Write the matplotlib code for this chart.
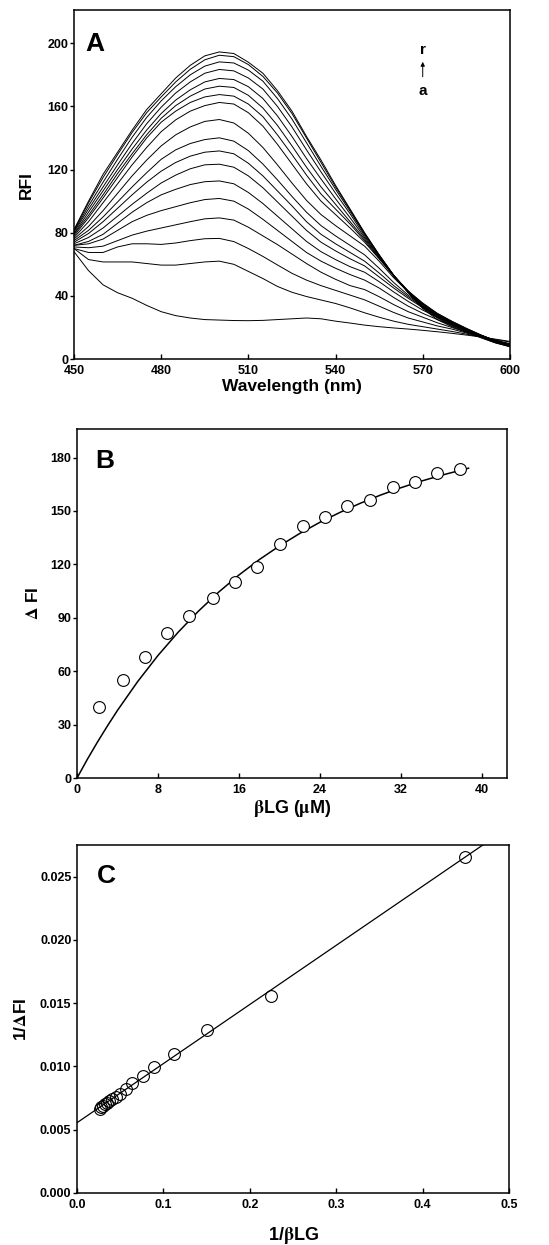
import numpy as np
import matplotlib
matplotlib.use("Agg")
import matplotlib.pyplot as plt
from matplotlib.ticker import MultipleLocator, FormatStrFormatter

plt.rcParams['font.family'] = ['Liberation Sans', 'DejaVu Sans']
plt.rcParams['font.weight'] = 'bold'
plt.rcParams['mathtext.fontset'] = 'stix'

# ---- panel A: emission spectra, curves a..r ----
wavelength = [450, 455, 460, 465, 470, 475, 480, 485, 490, 495, 500, 505, 510, 515, 520, 525,
              530, 535, 540, 545, 550, 555, 560, 565, 570, 575, 580, 585, 590, 595, 600]

spec_a = [68, 56, 47, 42, 38.5, 34, 30, 27.5, 26, 25, 24.7, 24.4, 24.3, 24.5, 25, 25.5,
          26, 25.5, 24, 22.8, 21.5, 20.5, 19.7, 19, 18.2, 17.3, 16.3, 15.2, 14, 12.6, 11.2]
spec_b = [70, 63, 61.5, 61.5, 61.5, 60.5, 59.5, 59.5, 60.5, 61.5, 62, 60, 55.5, 51, 46, 42.3,
          39.6, 37.4, 35.2, 32.4, 29.3, 26.5, 24, 22, 20.5, 19, 17.5, 15.8, 14, 12.3, 10.8]
spec_c = [70, 67.5, 67.5, 71, 73, 73, 72.6, 73.5, 75, 76.2, 76.4, 74.4, 70, 65, 59.6, 54.3,
          50, 46.5, 43.5, 40.5, 37.5, 33.5, 29.5, 26, 23.5, 21, 19, 16.5, 14, 11.8, 9.8]
spec_d = [71, 70.5, 71.5, 75, 78.5, 81, 83, 85, 87, 88.8, 89.4, 88, 83.5, 78, 72.5, 66.5,
          60.5, 55, 50.5, 46.5, 44, 39.5, 34.5, 30, 26.5, 23, 20, 17, 14.3, 11.8, 9.5]
spec_e = [72, 73, 76, 81.5, 87, 91, 94, 96.5, 99, 101, 101.7, 100, 95, 88.5, 81.5, 74.5,
          67.5, 62, 57.5, 53.5, 50, 45, 39, 33.5, 29, 25, 21.5, 18, 14.8, 11.8, 9.2]
spec_f = [72, 74.5, 79, 86, 93, 99, 104, 107.5, 110.5, 112.3, 112.8, 111, 105.5, 98.5, 90.5, 82.5,
          74.5, 68, 63, 58.5, 55, 49, 42.5, 36.5, 31, 26.5, 22.5, 18.5, 15, 11.8, 9]
spec_g = [73, 77, 83, 90.5, 98, 105, 111.5, 116.5, 120.5, 123, 123.4, 121.5, 116, 108.5, 99.5, 90.5,
          81.5, 74, 68.5, 63.5, 59, 52, 45, 38.5, 32.5, 27.5, 23, 18.8, 15, 11.7, 8.9]
spec_h = [74, 79.5, 87, 95.5, 104, 112, 119, 124.5, 128.5, 131, 131.8, 130, 124, 116, 106.5, 97,
          87, 79, 73, 67.5, 62, 54.5, 46.5, 39.5, 33, 27.8, 23.2, 19, 15, 11.6, 8.8]
spec_i = [75, 81.5, 90, 99.5, 109, 118, 126.5, 132.5, 136.5, 139, 140.1, 138, 132, 123.5, 113.5, 103,
          93, 84.5, 78, 72, 66, 57.5, 48.5, 40.5, 33.5, 28, 23.3, 19, 15, 11.6, 8.7]
spec_j = [76, 84, 94, 105, 116, 126, 135, 142, 147, 150.5, 151.7, 149.5, 143, 134, 123, 111.5,
          100.5, 91.5, 84.5, 78, 71.5, 62, 51.5, 42.5, 35, 28.8, 23.8, 19.3, 15.2, 11.6, 8.6]
spec_k = [77, 87, 99, 111, 123, 134, 144, 151.5, 157, 160.5, 162.5, 161.5, 156, 147.5, 136, 123.5,
          111, 100, 91.5, 83, 74, 63.5, 52.5, 43, 35.5, 29, 24, 19.5, 15.3, 11.5, 8.5]
spec_l = [78, 89.5, 102, 115, 128, 140, 150, 157, 162.5, 166, 167.5, 166.5, 161.5, 153.5, 142, 129.5,
          116.5, 104.5, 95, 85.5, 75, 64, 52.8, 43.2, 35, 28.5, 23.5, 19.2, 15.1, 11.4, 8.4]
spec_m = [79, 91, 104, 117.5, 130, 142, 152.5, 160.5, 166.5, 171, 172.8, 172, 167, 159, 148, 135,
          121.5, 109, 98, 87, 76, 64.5, 53, 43, 34.5, 28, 23, 18.8, 14.8, 11.2, 8.3]
spec_n = [79.5, 93, 106.5, 120, 133, 145, 155.5, 164, 170.5, 175.5, 177.7, 177, 172.5, 165, 154, 141,
          127, 114, 101.5, 89.5, 77, 65, 53, 42.5, 34, 27.5, 22.5, 18.5, 14.5, 11, 8.2]
spec_o = [80.5, 95, 109, 123, 136.5, 149, 159.5, 168.5, 175.5, 181, 183.4, 182.5, 178, 171, 160, 147,
          132.5, 118.5, 105, 92, 78, 65.5, 53, 42.5, 33.5, 27, 22, 18.2, 14.3, 10.8, 8.1]
spec_p = [81, 97, 112, 126.5, 140.5, 153, 163.5, 172.5, 180, 185.5, 188.2, 187.5, 183, 176, 165, 152,
          137, 122, 107.5, 93.5, 79, 65.8, 53, 42.2, 33, 26.5, 21.5, 17.8, 14, 10.6, 8]
spec_q = [81.5, 99, 115, 129.5, 143.5, 156, 166, 175.5, 183.5, 189.5, 192.4, 191.5, 186.5, 179, 168.5, 155.5,
          140, 124.5, 109, 94.5, 79.5, 66, 53, 42, 32.5, 26, 21, 17.3, 13.7, 10.4, 7.9]
spec_r = [82, 100, 117, 131, 145, 158, 168, 178, 186, 192, 194.5, 193.5, 188, 181, 170, 157,
          141, 126, 110, 95, 80, 66, 53, 42, 32, 25, 20.5, 17, 13.5, 10.2, 7.8]

spectra = [spec_a, spec_b, spec_c, spec_d, spec_e, spec_f, spec_g, spec_h, spec_i,
           spec_j, spec_k, spec_l, spec_m, spec_n, spec_o, spec_p, spec_q, spec_r]

# ---- panel B: delta FI vs beta-LG ----
blg_conc = [2.2, 4.5, 6.7, 8.9, 11.1, 13.4, 15.6, 17.8, 20.1, 22.3, 24.5, 26.7, 29.0, 31.2, 33.4, 35.6, 37.9]
delta_fi = [40.0, 55.0, 68.1, 81.2, 90.8, 101.1, 109.9, 118.3, 131.2, 141.3, 146.4, 152.5, 156.3,
            163.2, 166.1, 171.4, 173.4]
fit_b_x = [0, 1, 2, 3, 4, 6, 8, 10, 12, 14, 16, 18, 20, 22, 24, 26, 28, 30, 32, 34, 36, 38.7]
fit_b_y = [0, 10.3, 20.0, 29.2, 38.0, 54.2, 68.8, 81.9, 93.7, 104.4, 114.0, 122.6, 130.3, 137.3,
           143.6, 149.2, 154.3, 158.9, 163.0, 166.7, 170.0, 174.0]

# ---- panel C: double reciprocal ----
inv_blg = [0.449, 0.224, 0.150, 0.1126, 0.0895, 0.0760, 0.0641, 0.0562, 0.0498, 0.0448, 0.0408,
           0.0375, 0.0345, 0.0321, 0.0299, 0.0281, 0.0264]
inv_dfi = [0.02656, 0.01558, 0.01287, 0.01096, 0.00998, 0.00924, 0.0087, 0.0082, 0.0078, 0.0076,
           0.0074, 0.0073, 0.0071, 0.0070, 0.0069, 0.0068, 0.0066]

fig = plt.figure(figsize=(5.49, 12.45), dpi=100)

def style(ax):
    for s in ax.spines.values():
        s.set_linewidth(1.1)
    ax.tick_params(axis='y', direction='out', length=3, width=1, labelsize=9, pad=1)
    ax.tick_params(axis='x', direction='in', length=3.5, width=1, labelsize=9, pad=4.5)
    for lab in ax.get_xticklabels() + ax.get_yticklabels():
        lab.set_fontweight('bold')

# panel A
axA = fig.add_axes([0.1348, 0.7116, 0.794, 0.2803])
for s in spectra:
    axA.plot(wavelength, s, color='black', lw=0.7)
axA.set_xlim(450, 600)
axA.set_ylim(0, 221)
axA.xaxis.set_major_locator(MultipleLocator(30))
axA.yaxis.set_major_locator(MultipleLocator(40))
axA.set_xlabel('Wavelength (nm)', fontsize=12.5, fontweight='bold', labelpad=1)
axA.set_ylabel('RFI', fontsize=12.5, fontweight='bold', labelpad=10)
axA.text(0.027, 0.903, 'A', transform=axA.transAxes, fontsize=19, fontweight='bold', va='center')
axA.text(570, 196, 'r', fontsize=11, fontweight='bold', ha='center', va='center')
axA.text(570, 170, 'a', fontsize=11, fontweight='bold', ha='center', va='center')
axA.annotate('', xy=(570, 190), xytext=(570, 177),
             arrowprops=dict(arrowstyle='-|>', lw=0.7, color='black', mutation_scale=6))
style(axA)

# panel B
axB = fig.add_axes([0.1403, 0.3751, 0.7832, 0.2803])
axB.plot(fit_b_x, fit_b_y, color='black', lw=1.1)
axB.plot(blg_conc, delta_fi, 'o', mfc='white', mec='black', mew=0.8, ms=8.5)
axB.set_xlim(0, 42.5)
axB.set_ylim(0, 196)
axB.xaxis.set_major_locator(MultipleLocator(8))
axB.yaxis.set_major_locator(MultipleLocator(30))
axB.set_xlabel(r'$\mathrm{\beta}$LG ($\mathrm{\mu}$M)', fontsize=13, fontweight='bold', labelpad=1)
axB.set_ylabel(r'$\mathrm{\Delta}$ FI', fontsize=12.5, fontweight='bold', labelpad=7)
axB.text(0.042, 0.908, 'B', transform=axB.transAxes, fontsize=19, fontweight='bold', va='center')
style(axB)

# panel C
axC = fig.add_axes([0.1403, 0.0418, 0.7869, 0.2795])
slope, icpt = np.polyfit(inv_blg, inv_dfi, 1)
line_x = np.array([0.0, 0.5])
axC.plot(line_x, icpt + slope * line_x, color='black', lw=0.9)
axC.plot(inv_blg, inv_dfi, 'o', mfc='none', mec='black', mew=0.8, ms=8.5)
axC.set_xlim(0, 0.5)
axC.set_ylim(0, 0.0275)
axC.xaxis.set_major_locator(MultipleLocator(0.1))
axC.yaxis.set_major_locator(MultipleLocator(0.005))
axC.xaxis.set_major_formatter(FormatStrFormatter('%.1f'))
axC.yaxis.set_major_formatter(FormatStrFormatter('%.3f'))
axC.set_xlabel(r'1/$\mathrm{\beta}$LG', fontsize=13, fontweight='bold', labelpad=10)
axC.set_ylabel(r'1/$\mathrm{\Delta}$FI', fontsize=12.5, fontweight='bold', labelpad=8)
axC.text(0.046, 0.911, 'C', transform=axC.transAxes, fontsize=19, fontweight='bold', va='center')
style(axC)

fig.savefig('out.png', dpi=100)
